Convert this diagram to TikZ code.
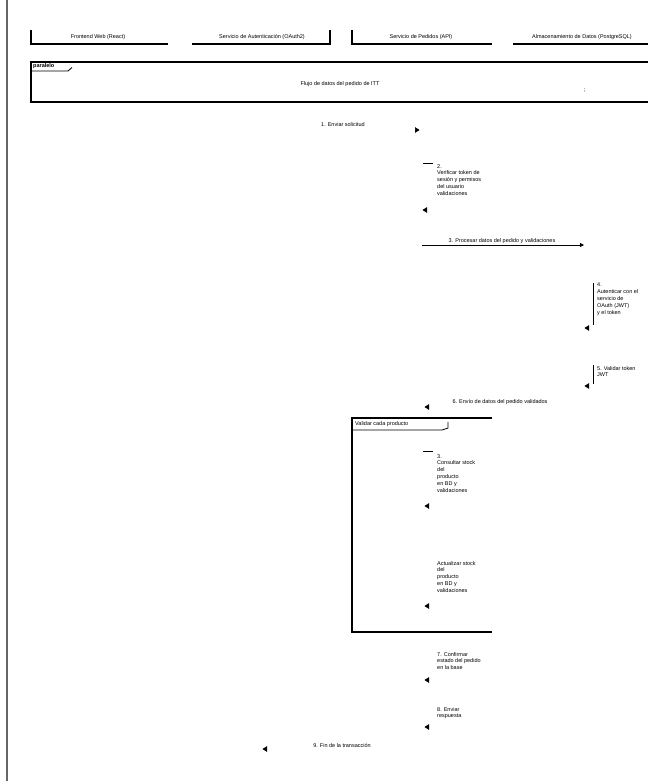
\documentclass[tikz,border=0pt]{standalone}
\usepackage{fontspec}
\setmainfont{Liberation Sans}
\usetikzlibrary{arrows.meta}
\begin{document}
\begin{tikzpicture}[x=1pt,y=-1pt,
  lbl/.style={font=\fontsize{5.5}{6.8}\selectfont, inner sep=0pt},
  blk/.style={lbl, align=left, anchor=north west},
  edge/.style={line width=1.3pt},
  thin/.style={line width=0.8pt},
  tip/.style={-{Triangle[length=4.5pt,width=5.5pt]}, line width=0.5pt},
]
\useasboundingbox (0,0) rectangle (648,781);
\fill[white] (0,0) rectangle (648,781);
% left rule
\draw[black!60, line width=2pt] (7,0) -- (7,781);

% participants
\draw[edge] (31,30) -- (31,44) -- (168,44);
\node[lbl] (p1) at (98,37) {Frontend Web (React)};
\draw[edge] (192,44) -- (330,44) -- (330,30);
\node[lbl] (p2) at (262,37) {Servicio de Autenticación (OAuth2)};
\draw[edge] (352,30) -- (352,44) -- (492,44);
\node[lbl] (p3) at (421,37) {Servicio de Pedidos (API)};
\draw[edge] (513,44) -- (648,44);
\node[lbl] (p4) at (582,37) {Almacenamiento de Datos (PostgreSQL)};

% outer frame
\draw[edge] (648,62) -- (31,62) -- (31,102) -- (648,102);
\node[lbl, anchor=west, font=\fontsize{5.5}{6.8}\selectfont\bfseries] (flab) at (33,66.5) {paralelo};
\draw[thin] (31,71) -- (68,71) -- (72,67.5);
\node[lbl] (ftxt) at (340,84) {Flujo de datos del pedido de ITT};
\node[lbl] (fmark) at (585,90) {;};

% 1
\node[lbl] (m1) at (343,125) {1. Enviar solicitud};
\coordinate (a1) at (416,130);
\draw[tip] (a1) -- ++(3.5,0);

% 2
\coordinate (s2) at (423,163);
\draw[thin] (s2) -- ++(10,0);
\node[blk] (m2) at (437,164) {2.\\Verificar token de\\sesión y permisos\\del usuario\\validaciones};
\coordinate (a2) at (426,210);
\draw[tip] (a2) -- ++(-3.5,0);

% 3
\coordinate (s3) at (422,245);
\coordinate (e3) at (584,245);
\draw[thin, -{Triangle[length=4pt,width=4pt]}] (s3) -- (e3);
\node[lbl] (m3) at (502,241) {3. Procesar datos del pedido y validaciones};

% 4
\draw[thin] (593,283) -- (593,325);
\node[blk] (m4) at (597,283) {4.\\Autenticar con el\\servicio de\\OAuth (JWT)\\y el token};
\coordinate (a4) at (588,328);
\draw[tip] (a4) -- ++(-3.5,0);

% 5
\draw[thin] (593,365) -- (593,384);
\node[blk] (m5) at (597,366) {5. Validar token\\JWT};
\coordinate (a5) at (588,386);
\draw[tip] (a5) -- ++(-3.5,0);

% 6
\node[lbl] (m6) at (500,402) {6. Envío de datos del pedido validados};
\coordinate (a6) at (428,407);
\draw[tip] (a6) -- ++(-3.5,0);

% loop box
\draw[edge] (492,418) -- (352,418) -- (352,632) -- (492,632);
\node[lbl, anchor=west] (llab) at (355,424.5) {Validar cada producto};
\draw[thin] (352,430) -- (442,430) -- (448,428) -- (448,422);

% loop msg a
\coordinate (s7) at (423,451);
\draw[thin] (s7) -- ++(10,0);
\node[blk] (m7) at (437,454) {3.\\Consultar stock\\del\\producto\\en BD y\\validaciones};
\coordinate (a7) at (428,506);
\draw[tip] (a7) -- ++(-3.5,0);

% loop msg b
\node[blk] (m8) at (437,561) {Actualizar stock\\del\\producto\\en BD y\\validaciones};
\coordinate (a8) at (428,606);
\draw[tip] (a8) -- ++(-3.5,0);

% 7
\node[blk] (m9) at (437,652) {7. Confirmar\\estado del pedido\\en la base};
\coordinate (a9) at (428,680);
\draw[tip] (a9) -- ++(-3.5,0);

% 8
\node[blk] (m10) at (437,707) {8. Enviar\\respuesta};
\coordinate (a10) at (428,727);
\draw[tip] (a10) -- ++(-3.5,0);

% 9
\node[lbl] (m11) at (342,745) {9. Fin de la transacción};
\coordinate (a11) at (266,749);
\draw[tip] (a11) -- ++(-3.5,0);
\end{tikzpicture}
\end{document}
